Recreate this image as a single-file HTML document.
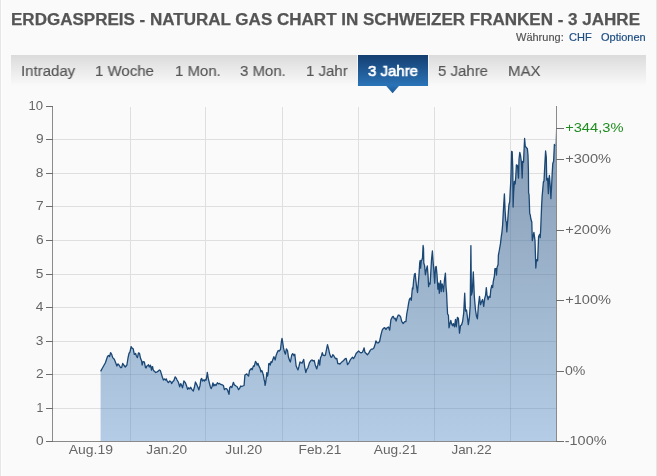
<!DOCTYPE html>
<html><head><meta charset="utf-8">
<style>
*{margin:0;padding:0;box-sizing:border-box}
html,body{width:657px;height:476px;overflow:hidden;background:#fafafa}
body{position:relative;font-family:"Liberation Sans",sans-serif}
.bl{position:absolute;left:0;top:0;width:1px;height:476px;background:#e6e6e6;box-shadow:1px 0 0 #fdfdfd}
.br{position:absolute;left:656px;top:0;width:1px;height:476px;background:#e4e4e4}
.title{position:absolute;left:11px;top:10px;font-size:16px;font-weight:bold;color:#555;white-space:nowrap;line-height:20px;transform:scaleX(1.0635);transform-origin:0 0;will-change:transform;-webkit-text-stroke:0.25px #555}
.sub{position:absolute;top:31px;font-size:11px;white-space:nowrap;line-height:13px;color:#555;will-change:transform;-webkit-text-stroke:0.2px currentColor}
.sub.blue{color:#1d4c82}
.tabs{position:absolute;left:11px;top:55px;width:635px;height:31px;background:linear-gradient(#dbdbdb,#f3f3f3 78%,#fafafa)}
.tab{position:absolute;top:61.5px;font-size:15.5px;color:#555;white-space:nowrap;line-height:17px;will-change:transform;-webkit-text-stroke:0.15px currentColor;transform:scaleX(0.967);transform-origin:0 0}
.act{position:absolute;left:358px;top:55px;width:70px;height:31px;background:linear-gradient(#143e70,#2b74b8)}
.actsep{position:absolute;top:55px;width:1px;height:31px;background:#f4f4f4}
.tab.w{color:#fff;-webkit-text-stroke:0.7px #fff}
</style></head><body>
<div class="bl"></div><div class="br"></div>
<div class="title">ERDGASPREIS - NATURAL GAS CHART IN SCHWEIZER FRANKEN - 3 JAHRE</div>
<div class="sub" style="left:516px">Währung:</div>
<div class="sub blue" style="left:568.5px">CHF</div>
<div class="sub blue" style="left:601px">Optionen</div>
<div class="tabs"></div>
<div class="actsep" style="left:357px"></div>
<div class="actsep" style="left:428px"></div>
<div class="act"></div>
<div class="tab" style="left:20.5px">Intraday</div>
<div class="tab" style="left:95px">1 Woche</div>
<div class="tab" style="left:174.5px">1 Mon.</div>
<div class="tab" style="left:240px">3 Mon.</div>
<div class="tab" style="left:306px">1 Jahr</div>
<div class="tab w" style="left:367.5px">3 Jahre</div>
<div class="tab" style="left:437.5px">5 Jahre</div>
<div class="tab" style="left:507.5px">MAX</div>
<svg style="position:absolute;left:0;top:0" width="657" height="476" viewBox="0 0 657 476">
<defs>
<linearGradient id="pt" x1="0" y1="0" x2="0" y2="1"><stop offset="0" stop-color="#2a72b6"/><stop offset="1" stop-color="#1a5898"/></linearGradient>
<linearGradient id="fg" gradientUnits="userSpaceOnUse" x1="0" y1="106" x2="0" y2="441"><stop offset="0" stop-color="#8399b1"/><stop offset="1" stop-color="#b4cce5"/></linearGradient>
</defs>
<path d="M385.8,85.5 L392.6,93.2 L399.4,85.5 Z" fill="url(#pt)"/>
<!-- gridlines -->
<g stroke="#dfdfdf" stroke-width="1" shape-rendering="crispEdges">
<line x1="53" y1="408.5" x2="556" y2="408.5"/><line x1="53" y1="374.5" x2="556" y2="374.5"/><line x1="53" y1="341.5" x2="556" y2="341.5"/><line x1="53" y1="307.5" x2="556" y2="307.5"/><line x1="53" y1="274.5" x2="556" y2="274.5"/><line x1="53" y1="240.5" x2="556" y2="240.5"/><line x1="53" y1="206.5" x2="556" y2="206.5"/><line x1="53" y1="173.5" x2="556" y2="173.5"/><line x1="53" y1="139.5" x2="556" y2="139.5"/>
<line x1="130.5" y1="107" x2="130.5" y2="441"/><line x1="205.5" y1="107" x2="205.5" y2="441"/><line x1="282.5" y1="107" x2="282.5" y2="441"/><line x1="358.5" y1="107" x2="358.5" y2="441"/><line x1="434.5" y1="107" x2="434.5" y2="441"/><line x1="510.5" y1="107" x2="510.5" y2="441"/>
</g>
<clipPath id="ac"><path d="M100.6,441 L100.6,371.4 L103.3,366.5 L105.4,362.8 L107.5,356.5 L108.5,355.5 L109.6,356.5 L110.6,352.7 L111.7,354.4 L112.7,357.6 L114.3,359.2 L115.3,361.8 L116.9,366.0 L118.0,363.9 L119.0,365.0 L120.6,367.6 L121.6,367.6 L122.7,363.4 L123.7,365.0 L125.3,367.0 L126.9,365.0 L128.0,358.0 L129.0,353.4 L130.0,351.8 L131.1,346.6 L132.1,348.1 L133.2,348.7 L134.3,354.4 L135.6,353.4 L136.4,356.0 L137.4,357.6 L138.5,352.9 L139.5,353.4 L140.6,358.6 L141.6,360.7 L142.1,365.0 L143.0,361.7 L144.3,361.9 L144.9,364.7 L145.5,367.6 L146.2,367.9 L146.8,366.0 L147.7,365.7 L148.5,364.7 L149.2,366.8 L149.6,366.9 L150.4,365.2 L151.0,367.4 L151.5,370.1 L152.1,366.9 L152.6,366.6 L153.1,369.5 L153.7,370.7 L154.7,371.4 L155.6,372.5 L156.6,372.1 L158.0,371.4 L158.2,371.0 L159.4,370.0 L160.3,370.5 L161.3,373.6 L162.4,377.3 L163.4,380.0 L164.5,378.9 L165.5,380.0 L166.3,378.9 L167.4,381.5 L168.4,382.6 L169.7,381.0 L170.8,381.5 L171.6,383.6 L172.9,381.5 L173.9,380.5 L175.2,376.8 L176.0,377.8 L177.1,380.0 L178.3,382.0 L179.7,386.8 L180.7,383.6 L181.8,385.7 L182.5,387.8 L183.9,381.0 L185.3,382.6 L186.5,385.7 L187.6,389.4 L188.6,387.8 L189.7,388.9 L190.7,387.3 L191.8,389.4 L193.3,391.0 L194.4,387.3 L195.4,382.0 L196.5,384.1 L197.5,386.2 L198.9,389.9 L200.0,385.7 L200.9,379.4 L201.7,378.4 L202.5,381.0 L203.5,379.9 L204.4,381.0 L205.0,379.7 L206.0,380.2 L206.9,376.0 L207.3,372.3 L208.2,378.1 L209.2,382.3 L210.3,386.5 L211.1,388.6 L212.1,386.5 L212.9,382.8 L213.9,386.0 L215.0,384.4 L216.0,385.5 L217.4,382.8 L218.4,383.9 L219.5,383.4 L220.8,384.4 L222.3,384.9 L223.4,385.5 L224.4,389.7 L225.5,388.6 L226.5,388.6 L227.6,390.2 L229.0,394.4 L229.7,387.6 L230.7,386.5 L231.8,387.6 L233.4,382.3 L234.4,384.9 L236.0,386.0 L237.0,386.5 L238.6,389.7 L239.7,388.1 L240.7,386.0 L241.8,386.5 L242.8,386.0 L244.1,385.5 L244.9,375.0 L246.0,374.4 L246.8,373.9 L247.9,375.5 L248.6,376.0 L249.6,370.2 L250.0,370.1 L251.3,368.4 L252.1,369.7 L253.4,365.9 L254.2,366.3 L255.5,361.3 L256.3,362.6 L257.1,365.1 L258.0,363.4 L258.8,365.9 L260.1,368.4 L260.9,371.8 L261.8,370.5 L262.6,372.6 L263.4,375.2 L264.1,379.4 L264.7,381.9 L265.1,385.3 L265.5,383.6 L266.4,376.8 L266.8,372.6 L267.6,376.0 L268.3,371.8 L268.7,363.8 L269.5,363.4 L270.2,365.1 L271.0,361.7 L271.8,362.6 L273.1,358.8 L273.9,356.7 L275.2,360.0 L276.0,355.8 L277.2,352.6 L278.2,350.5 L279.3,351.0 L280.5,349.4 L281.4,341.6 L282.0,338.4 L282.6,341.6 L283.5,347.9 L284.5,352.1 L285.4,354.2 L286.4,348.9 L287.5,350.5 L288.5,357.3 L289.6,360.5 L290.4,362.0 L291.7,355.2 L292.7,353.6 L294.0,355.7 L294.8,354.2 L296.1,365.7 L297.1,368.3 L298.0,369.9 L299.0,366.2 L300.0,362.0 L301.1,362.6 L302.1,363.1 L303.7,359.4 L304.7,366.8 L305.8,372.5 L306.8,369.4 L307.9,367.8 L309.5,362.6 L311.0,360.5 L312.1,359.9 L313.1,361.0 L314.2,360.5 L315.2,364.7 L316.8,368.9 L317.9,364.7 L318.7,359.9 L319.7,365.2 L320.5,357.8 L321.5,355.7 L322.3,352.6 L323.1,355.2 L324.4,355.7 L325.4,355.2 L326.5,349.4 L327.5,344.7 L328.6,348.9 L329.6,353.6 L330.7,356.8 L331.7,357.3 L332.8,354.7 L333.8,355.7 L334.9,357.8 L335.9,358.9 L336.8,358.4 L337.8,363.6 L339.1,363.6 L339.9,364.1 L341.2,362.6 L342.5,361.5 L343.6,360.5 L345.0,358.9 L346.2,358.4 L347.5,364.7 L348.8,363.1 L350.0,360.4 L351.3,358.5 L352.6,357.3 L353.6,358.5 L354.8,356.7 L356.1,353.5 L357.3,352.2 L358.6,351.0 L359.9,352.2 L361.1,352.9 L362.4,352.2 L363.3,350.4 L364.1,347.8 L364.9,352.2 L366.2,353.5 L367.4,354.8 L368.9,352.9 L370.2,350.4 L371.4,349.1 L372.7,349.1 L374.0,347.8 L375.2,344.0 L375.9,340.9 L377.1,342.8 L378.4,342.8 L379.6,341.5 L380.9,335.2 L382.2,330.2 L383.4,328.3 L384.7,327.7 L385.9,329.5 L387.2,327.7 L388.5,327.0 L389.7,330.2 L390.9,319.7 L392.4,316.9 L393.3,316.4 L394.3,318.8 L395.2,318.3 L396.1,321.1 L397.1,317.8 L398.3,315.0 L399.5,315.4 L400.6,316.9 L401.8,321.6 L403.2,323.5 L404.7,321.6 L405.9,321.6 L406.8,313.6 L407.8,308.4 L408.7,302.7 L409.4,299.4 L410.3,298.0 L411.3,300.3 L411.9,293.2 L412.4,288.0 L412.9,289.1 L413.7,279.8 L414.5,274.0 L415.2,273.5 L415.8,279.8 L416.6,286.6 L417.5,292.5 L418.3,283.2 L419.1,273.1 L419.7,263.0 L420.2,260.5 L420.6,268.1 L421.2,261.4 L421.9,259.7 L422.5,258.0 L423.1,245.5 L423.5,248.0 L423.8,263.0 L424.6,265.6 L425.4,274.8 L426.3,269.8 L427.3,266.0 L428.0,274.8 L428.6,286.6 L429.2,283.2 L430.1,284.0 L430.9,270.6 L431.5,259.7 L432.4,251.0 L433.2,263.0 L433.8,269.8 L434.7,283.2 L435.5,267.2 L436.2,266.4 L437.0,274.8 L437.9,289.1 L438.7,283.2 L439.3,293.3 L439.9,285.7 L440.6,280.7 L441.2,291.6 L442.1,284.0 L442.9,286.6 L443.5,291.6 L444.4,280.7 L445.4,273.1 L446.0,286.6 L446.6,293.3 L447.1,305.0 L447.6,314.2 L448.4,315.2 L449.0,327.8 L449.7,324.7 L450.8,320.5 L451.5,323.6 L452.6,325.7 L453.4,323.6 L454.5,326.8 L455.5,319.4 L456.3,326.8 L457.4,317.3 L458.4,318.4 L459.5,333.1 L460.5,325.7 L461.6,324.7 L462.6,321.5 L463.7,313.1 L464.7,293.2 L465.5,311.0 L466.5,310.0 L467.6,318.4 L468.3,324.7 L469.4,317.3 L470.2,305.8 L470.9,245.6 L471.4,295.0 L472.3,291.8 L473.3,272.0 L474.3,296.0 L475.5,310.0 L476.5,316.3 L477.4,318.9 L478.4,305.8 L479.5,296.3 L480.5,304.7 L481.6,301.6 L482.6,299.5 L483.7,306.3 L484.7,298.4 L485.6,295.3 L486.3,287.6 L487.0,294.9 L488.1,299.5 L489.1,296.3 L490.1,297.4 L490.8,289.7 L491.8,285.5 L492.6,287.6 L493.3,281.3 L494.4,276.0 L494.9,268.7 L496.0,268.7 L496.5,275.0 L497.0,267.6 L498.1,264.5 L498.4,255.2 L499.2,251.0 L500.5,243.4 L501.3,236.7 L501.9,232.5 L502.6,225.2 L503.4,210.1 L504.4,194.0 L505.1,210.9 L505.8,221.0 L506.3,221.8 L506.8,231.9 L507.4,224.4 L508.3,212.6 L508.9,205.0 L509.7,201.7 L510.1,193.2 L510.8,180.6 L511.2,168.0 L511.6,151.4 L512.2,151.8 L512.8,170.0 L513.1,207.0 L513.6,193.0 L514.4,181.3 L515.2,184.0 L515.8,176.0 L516.4,164.9 L517.5,165.5 L518.5,178.1 L519.0,159.2 L519.8,152.3 L520.6,156.0 L521.4,162.3 L522.2,178.1 L522.7,161.3 L523.5,162.3 L524.6,138.5 L525.3,146.6 L526.4,147.6 L527.4,148.7 L528.0,155.2 L528.4,170.0 L528.6,193.2 L529.0,194.0 L529.3,201.0 L529.7,213.6 L530.3,215.1 L530.8,218.8 L531.8,222.0 L532.3,240.7 L533.9,232.3 L535.0,240.7 L535.5,256.5 L535.8,268.0 L536.5,259.6 L537.6,260.7 L538.1,249.1 L538.6,236.5 L539.7,234.4 L540.2,237.6 L540.7,229.2 L541.6,206.2 L542.1,196.9 L543.4,181.8 L544.0,181.0 L545.0,161.5 L545.6,151.0 L546.3,157.3 L546.7,180.1 L547.6,178.4 L548.4,193.6 L548.8,180.1 L549.4,175.5 L549.9,181.8 L550.5,190.2 L550.9,198.6 L551.6,186.0 L552.2,173.4 L552.8,163.5 L553.6,161.3 L554.4,144.4 L555.1,145.9 L556.0,128.5 L556.0,441 Z"/></clipPath>
<path d="M100.6,441 L100.6,371.4 L103.3,366.5 L105.4,362.8 L107.5,356.5 L108.5,355.5 L109.6,356.5 L110.6,352.7 L111.7,354.4 L112.7,357.6 L114.3,359.2 L115.3,361.8 L116.9,366.0 L118.0,363.9 L119.0,365.0 L120.6,367.6 L121.6,367.6 L122.7,363.4 L123.7,365.0 L125.3,367.0 L126.9,365.0 L128.0,358.0 L129.0,353.4 L130.0,351.8 L131.1,346.6 L132.1,348.1 L133.2,348.7 L134.3,354.4 L135.6,353.4 L136.4,356.0 L137.4,357.6 L138.5,352.9 L139.5,353.4 L140.6,358.6 L141.6,360.7 L142.1,365.0 L143.0,361.7 L144.3,361.9 L144.9,364.7 L145.5,367.6 L146.2,367.9 L146.8,366.0 L147.7,365.7 L148.5,364.7 L149.2,366.8 L149.6,366.9 L150.4,365.2 L151.0,367.4 L151.5,370.1 L152.1,366.9 L152.6,366.6 L153.1,369.5 L153.7,370.7 L154.7,371.4 L155.6,372.5 L156.6,372.1 L158.0,371.4 L158.2,371.0 L159.4,370.0 L160.3,370.5 L161.3,373.6 L162.4,377.3 L163.4,380.0 L164.5,378.9 L165.5,380.0 L166.3,378.9 L167.4,381.5 L168.4,382.6 L169.7,381.0 L170.8,381.5 L171.6,383.6 L172.9,381.5 L173.9,380.5 L175.2,376.8 L176.0,377.8 L177.1,380.0 L178.3,382.0 L179.7,386.8 L180.7,383.6 L181.8,385.7 L182.5,387.8 L183.9,381.0 L185.3,382.6 L186.5,385.7 L187.6,389.4 L188.6,387.8 L189.7,388.9 L190.7,387.3 L191.8,389.4 L193.3,391.0 L194.4,387.3 L195.4,382.0 L196.5,384.1 L197.5,386.2 L198.9,389.9 L200.0,385.7 L200.9,379.4 L201.7,378.4 L202.5,381.0 L203.5,379.9 L204.4,381.0 L205.0,379.7 L206.0,380.2 L206.9,376.0 L207.3,372.3 L208.2,378.1 L209.2,382.3 L210.3,386.5 L211.1,388.6 L212.1,386.5 L212.9,382.8 L213.9,386.0 L215.0,384.4 L216.0,385.5 L217.4,382.8 L218.4,383.9 L219.5,383.4 L220.8,384.4 L222.3,384.9 L223.4,385.5 L224.4,389.7 L225.5,388.6 L226.5,388.6 L227.6,390.2 L229.0,394.4 L229.7,387.6 L230.7,386.5 L231.8,387.6 L233.4,382.3 L234.4,384.9 L236.0,386.0 L237.0,386.5 L238.6,389.7 L239.7,388.1 L240.7,386.0 L241.8,386.5 L242.8,386.0 L244.1,385.5 L244.9,375.0 L246.0,374.4 L246.8,373.9 L247.9,375.5 L248.6,376.0 L249.6,370.2 L250.0,370.1 L251.3,368.4 L252.1,369.7 L253.4,365.9 L254.2,366.3 L255.5,361.3 L256.3,362.6 L257.1,365.1 L258.0,363.4 L258.8,365.9 L260.1,368.4 L260.9,371.8 L261.8,370.5 L262.6,372.6 L263.4,375.2 L264.1,379.4 L264.7,381.9 L265.1,385.3 L265.5,383.6 L266.4,376.8 L266.8,372.6 L267.6,376.0 L268.3,371.8 L268.7,363.8 L269.5,363.4 L270.2,365.1 L271.0,361.7 L271.8,362.6 L273.1,358.8 L273.9,356.7 L275.2,360.0 L276.0,355.8 L277.2,352.6 L278.2,350.5 L279.3,351.0 L280.5,349.4 L281.4,341.6 L282.0,338.4 L282.6,341.6 L283.5,347.9 L284.5,352.1 L285.4,354.2 L286.4,348.9 L287.5,350.5 L288.5,357.3 L289.6,360.5 L290.4,362.0 L291.7,355.2 L292.7,353.6 L294.0,355.7 L294.8,354.2 L296.1,365.7 L297.1,368.3 L298.0,369.9 L299.0,366.2 L300.0,362.0 L301.1,362.6 L302.1,363.1 L303.7,359.4 L304.7,366.8 L305.8,372.5 L306.8,369.4 L307.9,367.8 L309.5,362.6 L311.0,360.5 L312.1,359.9 L313.1,361.0 L314.2,360.5 L315.2,364.7 L316.8,368.9 L317.9,364.7 L318.7,359.9 L319.7,365.2 L320.5,357.8 L321.5,355.7 L322.3,352.6 L323.1,355.2 L324.4,355.7 L325.4,355.2 L326.5,349.4 L327.5,344.7 L328.6,348.9 L329.6,353.6 L330.7,356.8 L331.7,357.3 L332.8,354.7 L333.8,355.7 L334.9,357.8 L335.9,358.9 L336.8,358.4 L337.8,363.6 L339.1,363.6 L339.9,364.1 L341.2,362.6 L342.5,361.5 L343.6,360.5 L345.0,358.9 L346.2,358.4 L347.5,364.7 L348.8,363.1 L350.0,360.4 L351.3,358.5 L352.6,357.3 L353.6,358.5 L354.8,356.7 L356.1,353.5 L357.3,352.2 L358.6,351.0 L359.9,352.2 L361.1,352.9 L362.4,352.2 L363.3,350.4 L364.1,347.8 L364.9,352.2 L366.2,353.5 L367.4,354.8 L368.9,352.9 L370.2,350.4 L371.4,349.1 L372.7,349.1 L374.0,347.8 L375.2,344.0 L375.9,340.9 L377.1,342.8 L378.4,342.8 L379.6,341.5 L380.9,335.2 L382.2,330.2 L383.4,328.3 L384.7,327.7 L385.9,329.5 L387.2,327.7 L388.5,327.0 L389.7,330.2 L390.9,319.7 L392.4,316.9 L393.3,316.4 L394.3,318.8 L395.2,318.3 L396.1,321.1 L397.1,317.8 L398.3,315.0 L399.5,315.4 L400.6,316.9 L401.8,321.6 L403.2,323.5 L404.7,321.6 L405.9,321.6 L406.8,313.6 L407.8,308.4 L408.7,302.7 L409.4,299.4 L410.3,298.0 L411.3,300.3 L411.9,293.2 L412.4,288.0 L412.9,289.1 L413.7,279.8 L414.5,274.0 L415.2,273.5 L415.8,279.8 L416.6,286.6 L417.5,292.5 L418.3,283.2 L419.1,273.1 L419.7,263.0 L420.2,260.5 L420.6,268.1 L421.2,261.4 L421.9,259.7 L422.5,258.0 L423.1,245.5 L423.5,248.0 L423.8,263.0 L424.6,265.6 L425.4,274.8 L426.3,269.8 L427.3,266.0 L428.0,274.8 L428.6,286.6 L429.2,283.2 L430.1,284.0 L430.9,270.6 L431.5,259.7 L432.4,251.0 L433.2,263.0 L433.8,269.8 L434.7,283.2 L435.5,267.2 L436.2,266.4 L437.0,274.8 L437.9,289.1 L438.7,283.2 L439.3,293.3 L439.9,285.7 L440.6,280.7 L441.2,291.6 L442.1,284.0 L442.9,286.6 L443.5,291.6 L444.4,280.7 L445.4,273.1 L446.0,286.6 L446.6,293.3 L447.1,305.0 L447.6,314.2 L448.4,315.2 L449.0,327.8 L449.7,324.7 L450.8,320.5 L451.5,323.6 L452.6,325.7 L453.4,323.6 L454.5,326.8 L455.5,319.4 L456.3,326.8 L457.4,317.3 L458.4,318.4 L459.5,333.1 L460.5,325.7 L461.6,324.7 L462.6,321.5 L463.7,313.1 L464.7,293.2 L465.5,311.0 L466.5,310.0 L467.6,318.4 L468.3,324.7 L469.4,317.3 L470.2,305.8 L470.9,245.6 L471.4,295.0 L472.3,291.8 L473.3,272.0 L474.3,296.0 L475.5,310.0 L476.5,316.3 L477.4,318.9 L478.4,305.8 L479.5,296.3 L480.5,304.7 L481.6,301.6 L482.6,299.5 L483.7,306.3 L484.7,298.4 L485.6,295.3 L486.3,287.6 L487.0,294.9 L488.1,299.5 L489.1,296.3 L490.1,297.4 L490.8,289.7 L491.8,285.5 L492.6,287.6 L493.3,281.3 L494.4,276.0 L494.9,268.7 L496.0,268.7 L496.5,275.0 L497.0,267.6 L498.1,264.5 L498.4,255.2 L499.2,251.0 L500.5,243.4 L501.3,236.7 L501.9,232.5 L502.6,225.2 L503.4,210.1 L504.4,194.0 L505.1,210.9 L505.8,221.0 L506.3,221.8 L506.8,231.9 L507.4,224.4 L508.3,212.6 L508.9,205.0 L509.7,201.7 L510.1,193.2 L510.8,180.6 L511.2,168.0 L511.6,151.4 L512.2,151.8 L512.8,170.0 L513.1,207.0 L513.6,193.0 L514.4,181.3 L515.2,184.0 L515.8,176.0 L516.4,164.9 L517.5,165.5 L518.5,178.1 L519.0,159.2 L519.8,152.3 L520.6,156.0 L521.4,162.3 L522.2,178.1 L522.7,161.3 L523.5,162.3 L524.6,138.5 L525.3,146.6 L526.4,147.6 L527.4,148.7 L528.0,155.2 L528.4,170.0 L528.6,193.2 L529.0,194.0 L529.3,201.0 L529.7,213.6 L530.3,215.1 L530.8,218.8 L531.8,222.0 L532.3,240.7 L533.9,232.3 L535.0,240.7 L535.5,256.5 L535.8,268.0 L536.5,259.6 L537.6,260.7 L538.1,249.1 L538.6,236.5 L539.7,234.4 L540.2,237.6 L540.7,229.2 L541.6,206.2 L542.1,196.9 L543.4,181.8 L544.0,181.0 L545.0,161.5 L545.6,151.0 L546.3,157.3 L546.7,180.1 L547.6,178.4 L548.4,193.6 L548.8,180.1 L549.4,175.5 L549.9,181.8 L550.5,190.2 L550.9,198.6 L551.6,186.0 L552.2,173.4 L552.8,163.5 L553.6,161.3 L554.4,144.4 L555.1,145.9 L556.0,128.5 L556.0,441 Z" fill="url(#fg)"/>
<g stroke="rgba(50,70,100,0.12)" stroke-width="1" shape-rendering="crispEdges" clip-path="url(#ac)">
<line x1="53" y1="408.5" x2="556" y2="408.5"/><line x1="53" y1="374.5" x2="556" y2="374.5"/><line x1="53" y1="341.5" x2="556" y2="341.5"/><line x1="53" y1="307.5" x2="556" y2="307.5"/><line x1="53" y1="274.5" x2="556" y2="274.5"/><line x1="53" y1="240.5" x2="556" y2="240.5"/><line x1="53" y1="206.5" x2="556" y2="206.5"/><line x1="53" y1="173.5" x2="556" y2="173.5"/><line x1="53" y1="139.5" x2="556" y2="139.5"/>
<line x1="130.5" y1="107" x2="130.5" y2="441"/><line x1="205.5" y1="107" x2="205.5" y2="441"/><line x1="282.5" y1="107" x2="282.5" y2="441"/><line x1="358.5" y1="107" x2="358.5" y2="441"/><line x1="434.5" y1="107" x2="434.5" y2="441"/><line x1="510.5" y1="107" x2="510.5" y2="441"/>
</g>
<path d="M100.6,371.4 L103.3,366.5 L105.4,362.8 L107.5,356.5 L108.5,355.5 L109.6,356.5 L110.6,352.7 L111.7,354.4 L112.7,357.6 L114.3,359.2 L115.3,361.8 L116.9,366.0 L118.0,363.9 L119.0,365.0 L120.6,367.6 L121.6,367.6 L122.7,363.4 L123.7,365.0 L125.3,367.0 L126.9,365.0 L128.0,358.0 L129.0,353.4 L130.0,351.8 L131.1,346.6 L132.1,348.1 L133.2,348.7 L134.3,354.4 L135.6,353.4 L136.4,356.0 L137.4,357.6 L138.5,352.9 L139.5,353.4 L140.6,358.6 L141.6,360.7 L142.1,365.0 L143.0,361.7 L144.3,361.9 L144.9,364.7 L145.5,367.6 L146.2,367.9 L146.8,366.0 L147.7,365.7 L148.5,364.7 L149.2,366.8 L149.6,366.9 L150.4,365.2 L151.0,367.4 L151.5,370.1 L152.1,366.9 L152.6,366.6 L153.1,369.5 L153.7,370.7 L154.7,371.4 L155.6,372.5 L156.6,372.1 L158.0,371.4 L158.2,371.0 L159.4,370.0 L160.3,370.5 L161.3,373.6 L162.4,377.3 L163.4,380.0 L164.5,378.9 L165.5,380.0 L166.3,378.9 L167.4,381.5 L168.4,382.6 L169.7,381.0 L170.8,381.5 L171.6,383.6 L172.9,381.5 L173.9,380.5 L175.2,376.8 L176.0,377.8 L177.1,380.0 L178.3,382.0 L179.7,386.8 L180.7,383.6 L181.8,385.7 L182.5,387.8 L183.9,381.0 L185.3,382.6 L186.5,385.7 L187.6,389.4 L188.6,387.8 L189.7,388.9 L190.7,387.3 L191.8,389.4 L193.3,391.0 L194.4,387.3 L195.4,382.0 L196.5,384.1 L197.5,386.2 L198.9,389.9 L200.0,385.7 L200.9,379.4 L201.7,378.4 L202.5,381.0 L203.5,379.9 L204.4,381.0 L205.0,379.7 L206.0,380.2 L206.9,376.0 L207.3,372.3 L208.2,378.1 L209.2,382.3 L210.3,386.5 L211.1,388.6 L212.1,386.5 L212.9,382.8 L213.9,386.0 L215.0,384.4 L216.0,385.5 L217.4,382.8 L218.4,383.9 L219.5,383.4 L220.8,384.4 L222.3,384.9 L223.4,385.5 L224.4,389.7 L225.5,388.6 L226.5,388.6 L227.6,390.2 L229.0,394.4 L229.7,387.6 L230.7,386.5 L231.8,387.6 L233.4,382.3 L234.4,384.9 L236.0,386.0 L237.0,386.5 L238.6,389.7 L239.7,388.1 L240.7,386.0 L241.8,386.5 L242.8,386.0 L244.1,385.5 L244.9,375.0 L246.0,374.4 L246.8,373.9 L247.9,375.5 L248.6,376.0 L249.6,370.2 L250.0,370.1 L251.3,368.4 L252.1,369.7 L253.4,365.9 L254.2,366.3 L255.5,361.3 L256.3,362.6 L257.1,365.1 L258.0,363.4 L258.8,365.9 L260.1,368.4 L260.9,371.8 L261.8,370.5 L262.6,372.6 L263.4,375.2 L264.1,379.4 L264.7,381.9 L265.1,385.3 L265.5,383.6 L266.4,376.8 L266.8,372.6 L267.6,376.0 L268.3,371.8 L268.7,363.8 L269.5,363.4 L270.2,365.1 L271.0,361.7 L271.8,362.6 L273.1,358.8 L273.9,356.7 L275.2,360.0 L276.0,355.8 L277.2,352.6 L278.2,350.5 L279.3,351.0 L280.5,349.4 L281.4,341.6 L282.0,338.4 L282.6,341.6 L283.5,347.9 L284.5,352.1 L285.4,354.2 L286.4,348.9 L287.5,350.5 L288.5,357.3 L289.6,360.5 L290.4,362.0 L291.7,355.2 L292.7,353.6 L294.0,355.7 L294.8,354.2 L296.1,365.7 L297.1,368.3 L298.0,369.9 L299.0,366.2 L300.0,362.0 L301.1,362.6 L302.1,363.1 L303.7,359.4 L304.7,366.8 L305.8,372.5 L306.8,369.4 L307.9,367.8 L309.5,362.6 L311.0,360.5 L312.1,359.9 L313.1,361.0 L314.2,360.5 L315.2,364.7 L316.8,368.9 L317.9,364.7 L318.7,359.9 L319.7,365.2 L320.5,357.8 L321.5,355.7 L322.3,352.6 L323.1,355.2 L324.4,355.7 L325.4,355.2 L326.5,349.4 L327.5,344.7 L328.6,348.9 L329.6,353.6 L330.7,356.8 L331.7,357.3 L332.8,354.7 L333.8,355.7 L334.9,357.8 L335.9,358.9 L336.8,358.4 L337.8,363.6 L339.1,363.6 L339.9,364.1 L341.2,362.6 L342.5,361.5 L343.6,360.5 L345.0,358.9 L346.2,358.4 L347.5,364.7 L348.8,363.1 L350.0,360.4 L351.3,358.5 L352.6,357.3 L353.6,358.5 L354.8,356.7 L356.1,353.5 L357.3,352.2 L358.6,351.0 L359.9,352.2 L361.1,352.9 L362.4,352.2 L363.3,350.4 L364.1,347.8 L364.9,352.2 L366.2,353.5 L367.4,354.8 L368.9,352.9 L370.2,350.4 L371.4,349.1 L372.7,349.1 L374.0,347.8 L375.2,344.0 L375.9,340.9 L377.1,342.8 L378.4,342.8 L379.6,341.5 L380.9,335.2 L382.2,330.2 L383.4,328.3 L384.7,327.7 L385.9,329.5 L387.2,327.7 L388.5,327.0 L389.7,330.2 L390.9,319.7 L392.4,316.9 L393.3,316.4 L394.3,318.8 L395.2,318.3 L396.1,321.1 L397.1,317.8 L398.3,315.0 L399.5,315.4 L400.6,316.9 L401.8,321.6 L403.2,323.5 L404.7,321.6 L405.9,321.6 L406.8,313.6 L407.8,308.4 L408.7,302.7 L409.4,299.4 L410.3,298.0 L411.3,300.3 L411.9,293.2 L412.4,288.0 L412.9,289.1 L413.7,279.8 L414.5,274.0 L415.2,273.5 L415.8,279.8 L416.6,286.6 L417.5,292.5 L418.3,283.2 L419.1,273.1 L419.7,263.0 L420.2,260.5 L420.6,268.1 L421.2,261.4 L421.9,259.7 L422.5,258.0 L423.1,245.5 L423.5,248.0 L423.8,263.0 L424.6,265.6 L425.4,274.8 L426.3,269.8 L427.3,266.0 L428.0,274.8 L428.6,286.6 L429.2,283.2 L430.1,284.0 L430.9,270.6 L431.5,259.7 L432.4,251.0 L433.2,263.0 L433.8,269.8 L434.7,283.2 L435.5,267.2 L436.2,266.4 L437.0,274.8 L437.9,289.1 L438.7,283.2 L439.3,293.3 L439.9,285.7 L440.6,280.7 L441.2,291.6 L442.1,284.0 L442.9,286.6 L443.5,291.6 L444.4,280.7 L445.4,273.1 L446.0,286.6 L446.6,293.3 L447.1,305.0 L447.6,314.2 L448.4,315.2 L449.0,327.8 L449.7,324.7 L450.8,320.5 L451.5,323.6 L452.6,325.7 L453.4,323.6 L454.5,326.8 L455.5,319.4 L456.3,326.8 L457.4,317.3 L458.4,318.4 L459.5,333.1 L460.5,325.7 L461.6,324.7 L462.6,321.5 L463.7,313.1 L464.7,293.2 L465.5,311.0 L466.5,310.0 L467.6,318.4 L468.3,324.7 L469.4,317.3 L470.2,305.8 L470.9,245.6 L471.4,295.0 L472.3,291.8 L473.3,272.0 L474.3,296.0 L475.5,310.0 L476.5,316.3 L477.4,318.9 L478.4,305.8 L479.5,296.3 L480.5,304.7 L481.6,301.6 L482.6,299.5 L483.7,306.3 L484.7,298.4 L485.6,295.3 L486.3,287.6 L487.0,294.9 L488.1,299.5 L489.1,296.3 L490.1,297.4 L490.8,289.7 L491.8,285.5 L492.6,287.6 L493.3,281.3 L494.4,276.0 L494.9,268.7 L496.0,268.7 L496.5,275.0 L497.0,267.6 L498.1,264.5 L498.4,255.2 L499.2,251.0 L500.5,243.4 L501.3,236.7 L501.9,232.5 L502.6,225.2 L503.4,210.1 L504.4,194.0 L505.1,210.9 L505.8,221.0 L506.3,221.8 L506.8,231.9 L507.4,224.4 L508.3,212.6 L508.9,205.0 L509.7,201.7 L510.1,193.2 L510.8,180.6 L511.2,168.0 L511.6,151.4 L512.2,151.8 L512.8,170.0 L513.1,207.0 L513.6,193.0 L514.4,181.3 L515.2,184.0 L515.8,176.0 L516.4,164.9 L517.5,165.5 L518.5,178.1 L519.0,159.2 L519.8,152.3 L520.6,156.0 L521.4,162.3 L522.2,178.1 L522.7,161.3 L523.5,162.3 L524.6,138.5 L525.3,146.6 L526.4,147.6 L527.4,148.7 L528.0,155.2 L528.4,170.0 L528.6,193.2 L529.0,194.0 L529.3,201.0 L529.7,213.6 L530.3,215.1 L530.8,218.8 L531.8,222.0 L532.3,240.7 L533.9,232.3 L535.0,240.7 L535.5,256.5 L535.8,268.0 L536.5,259.6 L537.6,260.7 L538.1,249.1 L538.6,236.5 L539.7,234.4 L540.2,237.6 L540.7,229.2 L541.6,206.2 L542.1,196.9 L543.4,181.8 L544.0,181.0 L545.0,161.5 L545.6,151.0 L546.3,157.3 L546.7,180.1 L547.6,178.4 L548.4,193.6 L548.8,180.1 L549.4,175.5 L549.9,181.8 L550.5,190.2 L550.9,198.6 L551.6,186.0 L552.2,173.4 L552.8,163.5 L553.6,161.3 L554.4,144.4 L555.1,145.9" fill="none" stroke="#1b4775" stroke-width="1.3" stroke-linejoin="round"/>
<!-- axes -->
<g stroke="#8a8a8a" stroke-width="1" shape-rendering="crispEdges">
<line x1="52.5" y1="106" x2="52.5" y2="442"/>
<line x1="556.5" y1="106" x2="556.5" y2="442"/>
<line x1="52" y1="441.5" x2="557" y2="441.5"/>
</g>
<g stroke="#6e6e6e" stroke-width="1" shape-rendering="crispEdges">
<line x1="46" y1="441.5" x2="53" y2="441.5"/><line x1="46" y1="408.5" x2="53" y2="408.5"/><line x1="46" y1="374.5" x2="53" y2="374.5"/><line x1="46" y1="341.5" x2="53" y2="341.5"/><line x1="46" y1="307.5" x2="53" y2="307.5"/><line x1="46" y1="274.5" x2="53" y2="274.5"/><line x1="46" y1="240.5" x2="53" y2="240.5"/><line x1="46" y1="206.5" x2="53" y2="206.5"/><line x1="46" y1="173.5" x2="53" y2="173.5"/><line x1="46" y1="139.5" x2="53" y2="139.5"/><line x1="46" y1="106.5" x2="53" y2="106.5"/>
<line x1="556" y1="441.5" x2="564" y2="441.5"/><line x1="556" y1="371.5" x2="564" y2="371.5"/><line x1="556" y1="300.5" x2="564" y2="300.5"/><line x1="556" y1="230.5" x2="564" y2="230.5"/><line x1="556" y1="159.5" x2="564" y2="159.5"/><line x1="556" y1="128.5" x2="564" y2="128.5"/>
</g>
<g font-family="Liberation Sans, sans-serif" font-size="12" fill="#666">
<text transform="translate(35.89,444.80) scale(1.1438,1)">0</text><text transform="translate(36.43,411.80) scale(1.0185,1)">1</text><text transform="translate(35.88,377.80) scale(1.1440,1)">2</text><text transform="translate(35.85,344.80) scale(1.1440,1)">3</text><text transform="translate(35.66,310.80) scale(1.1440,1)">4</text><text transform="translate(35.85,277.80) scale(1.1440,1)">5</text><text transform="translate(35.88,243.80) scale(1.1440,1)">6</text><text transform="translate(35.88,209.80) scale(1.1440,1)">7</text><text transform="translate(35.85,176.80) scale(1.1440,1)">8</text><text transform="translate(35.88,142.80) scale(1.1440,1)">9</text><text transform="translate(28.57,109.80) scale(1.0903,1)">10</text>
<text transform="translate(564.78,444.60) scale(1.2044,1)">-100%</text><text transform="translate(564.97,374.60) scale(1.1793,1)">0%</text><text transform="translate(565.13,303.60) scale(1.2186,1)">+100%</text><text transform="translate(565.13,233.60) scale(1.2186,1)">+200%</text><text transform="translate(565.13,162.60) scale(1.2186,1)">+300%</text><text transform="translate(565.13,131.60) scale(1.2232,1)" fill="#1e8c1e">+344,3%</text>
<text transform="translate(68.73,454.00) scale(1.1644,1)">Aug.19</text><text transform="translate(146.37,454.00) scale(1.1336,1)">Jan.20</text><text transform="translate(225.36,454.00) scale(1.1476,1)">Jul.20</text><text transform="translate(298.58,454.00) scale(1.1433,1)">Feb.21</text><text transform="translate(373.83,454.00) scale(1.1422,1)">Aug.21</text><text transform="translate(451.48,454.00) scale(1.1159,1)">Jan.22</text>
</g>
</svg>
</body></html>
